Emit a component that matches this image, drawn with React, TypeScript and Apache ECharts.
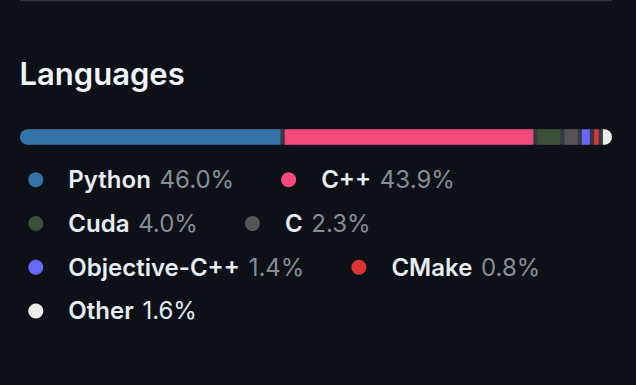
import React, { useEffect, useRef } from "react";
import * as echarts from "echarts";

const languages = ["Python", "C++", "Cuda", "C", "Objective-C++", "CMake", "Other"];
const percents = [46.0, 43.9, 4.0, 2.3, 1.4, 0.8, 1.6];
const colors = ["#3572A5", "#f34b7d", "#3A4E3A", "#555555", "#6866fb", "#DA3434", "#ededed"];
const title = "Languages";

const FONT = "Inter, 'Noto Sans', 'DejaVu Sans', sans-serif";
const GAP = 4.3;
const TRACK = "#353a42";

export default function App() {
  const ref = useRef<HTMLDivElement>(null);
  useEffect(() => {
    if (!ref.current) return;
    const chart = echarts.init(ref.current, undefined, { renderer: "svg" });
    const n = languages.length;
    const starts: number[] = [];
    let acc = 0;
    percents.forEach((p) => {
      starts.push(acc);
      acc += p;
    });
    const total = acc;

    const segSeries = languages.map((name, idx) => ({
      type: "custom",
      name,
      coordinateSystem: "cartesian2d",
      itemStyle: { color: colors[idx] },
      encode: { x: [0, 1], y: 2 },
      data: [[starts[idx], starts[idx] + percents[idx], 0]],
      silent: true,
      z: 3,
      renderItem: (params: any, api: any) => {
        const cs = params.coordSys;
        const x0 = api.coord([api.value(0), 0])[0];
        const x1 = api.coord([api.value(1), 0])[0];
        const k = (cs.width - GAP * (n - 1)) / cs.width;
        const px0 = cs.x + (x0 - cs.x) * k + idx * GAP;
        const px1 = cs.x + (x1 - cs.x) * k + idx * GAP;
        const h = cs.height;
        const rr = h / 2;
        const r = idx === 0 ? [rr, 0, 0, rr] : idx === n - 1 ? [0, rr, rr, 0] : 0;
        return {
          type: "rect",
          shape: { x: px0, y: cs.y, width: px1 - px0, height: h, r },
          style: { fill: colors[idx] },
        };
      },
    }));

    const trackSeries = {
      type: "custom",
      name: "track",
      coordinateSystem: "cartesian2d",
      encode: { x: [0, 1], y: 2 },
      data: [[0, total, 0]],
      silent: true,
      z: 2,
      renderItem: (params: any, api: any) => {
        const cs = params.coordSys;
        const x0 = api.coord([api.value(0), 0])[0];
        const x1 = api.coord([api.value(1), 0])[0];
        return {
          type: "rect",
          shape: { x: x0, y: cs.y, width: x1 - x0, height: cs.height, r: cs.height / 2 },
          style: { fill: TRACK },
        };
      },
    };

    chart.setOption({
      animation: false,
      backgroundColor: "#0d1117",
      title: {
        text: title,
        left: 19.5,
        top: 54,
        padding: 0,
        textStyle: {
          fontFamily: FONT,
          fontSize: 31,
          fontWeight: 600,
          color: "#f0f6fc",
          lineHeight: 38,
        },
      },
      graphic: [
        {
          type: "rect",
          shape: { x: 20, y: 0, width: 592, height: 1.3 },
          style: { fill: "#2d333b" },
          silent: true,
        },
      ],
      grid: { left: 20, right: 24, top: 129.3, height: 15.4, containLabel: false },
      xAxis: { type: "value", min: 0, max: 100, show: false },
      yAxis: { type: "category", data: ["bar"], show: false },
      legend: {
        data: languages,
        left: 28.3,
        top: 158,
        width: 600,
        padding: 0,
        itemGap: 0,
        itemWidth: 15,
        itemHeight: 15,
        icon: "circle",
        selectedMode: false,
        formatter: (name: string) => {
          const i = languages.indexOf(name);
          const pct = percents[i].toFixed(1) + "%";
          const style = name === "Other" ? "o" : "p";
          return `{n|${name}} {${style}|${pct}}`;
        },
        textStyle: {
          fontFamily: FONT,
          fontSize: 24,
          color: "#e6edf3",
          lineHeight: 43.7,
          rich: {
            n: {
              fontFamily: FONT,
              fontSize: 24,
              fontWeight: 600,
              color: "#e6edf3",
              lineHeight: 43.7,
              padding: [0, 0, 0, 20],
            },
            p: {
              fontFamily: FONT,
              fontSize: 24,
              fontWeight: 400,
              color: "#858d97",
              lineHeight: 43.7,
              padding: [0, 47, 0, 2],
            },
            o: {
              fontFamily: FONT,
              fontSize: 24,
              fontWeight: 400,
              color: "#e6edf3",
              lineHeight: 43.7,
              padding: [0, 47, 0, 2],
            },
          },
        },
      },
      series: [trackSeries, ...segSeries],
    });
    return () => chart.dispose();
  }, []);
  return (
    <div
      ref={ref}
      style={{ position: "fixed", left: 0, top: 0, width: 636, height: 385 }}
    />
  );
}
